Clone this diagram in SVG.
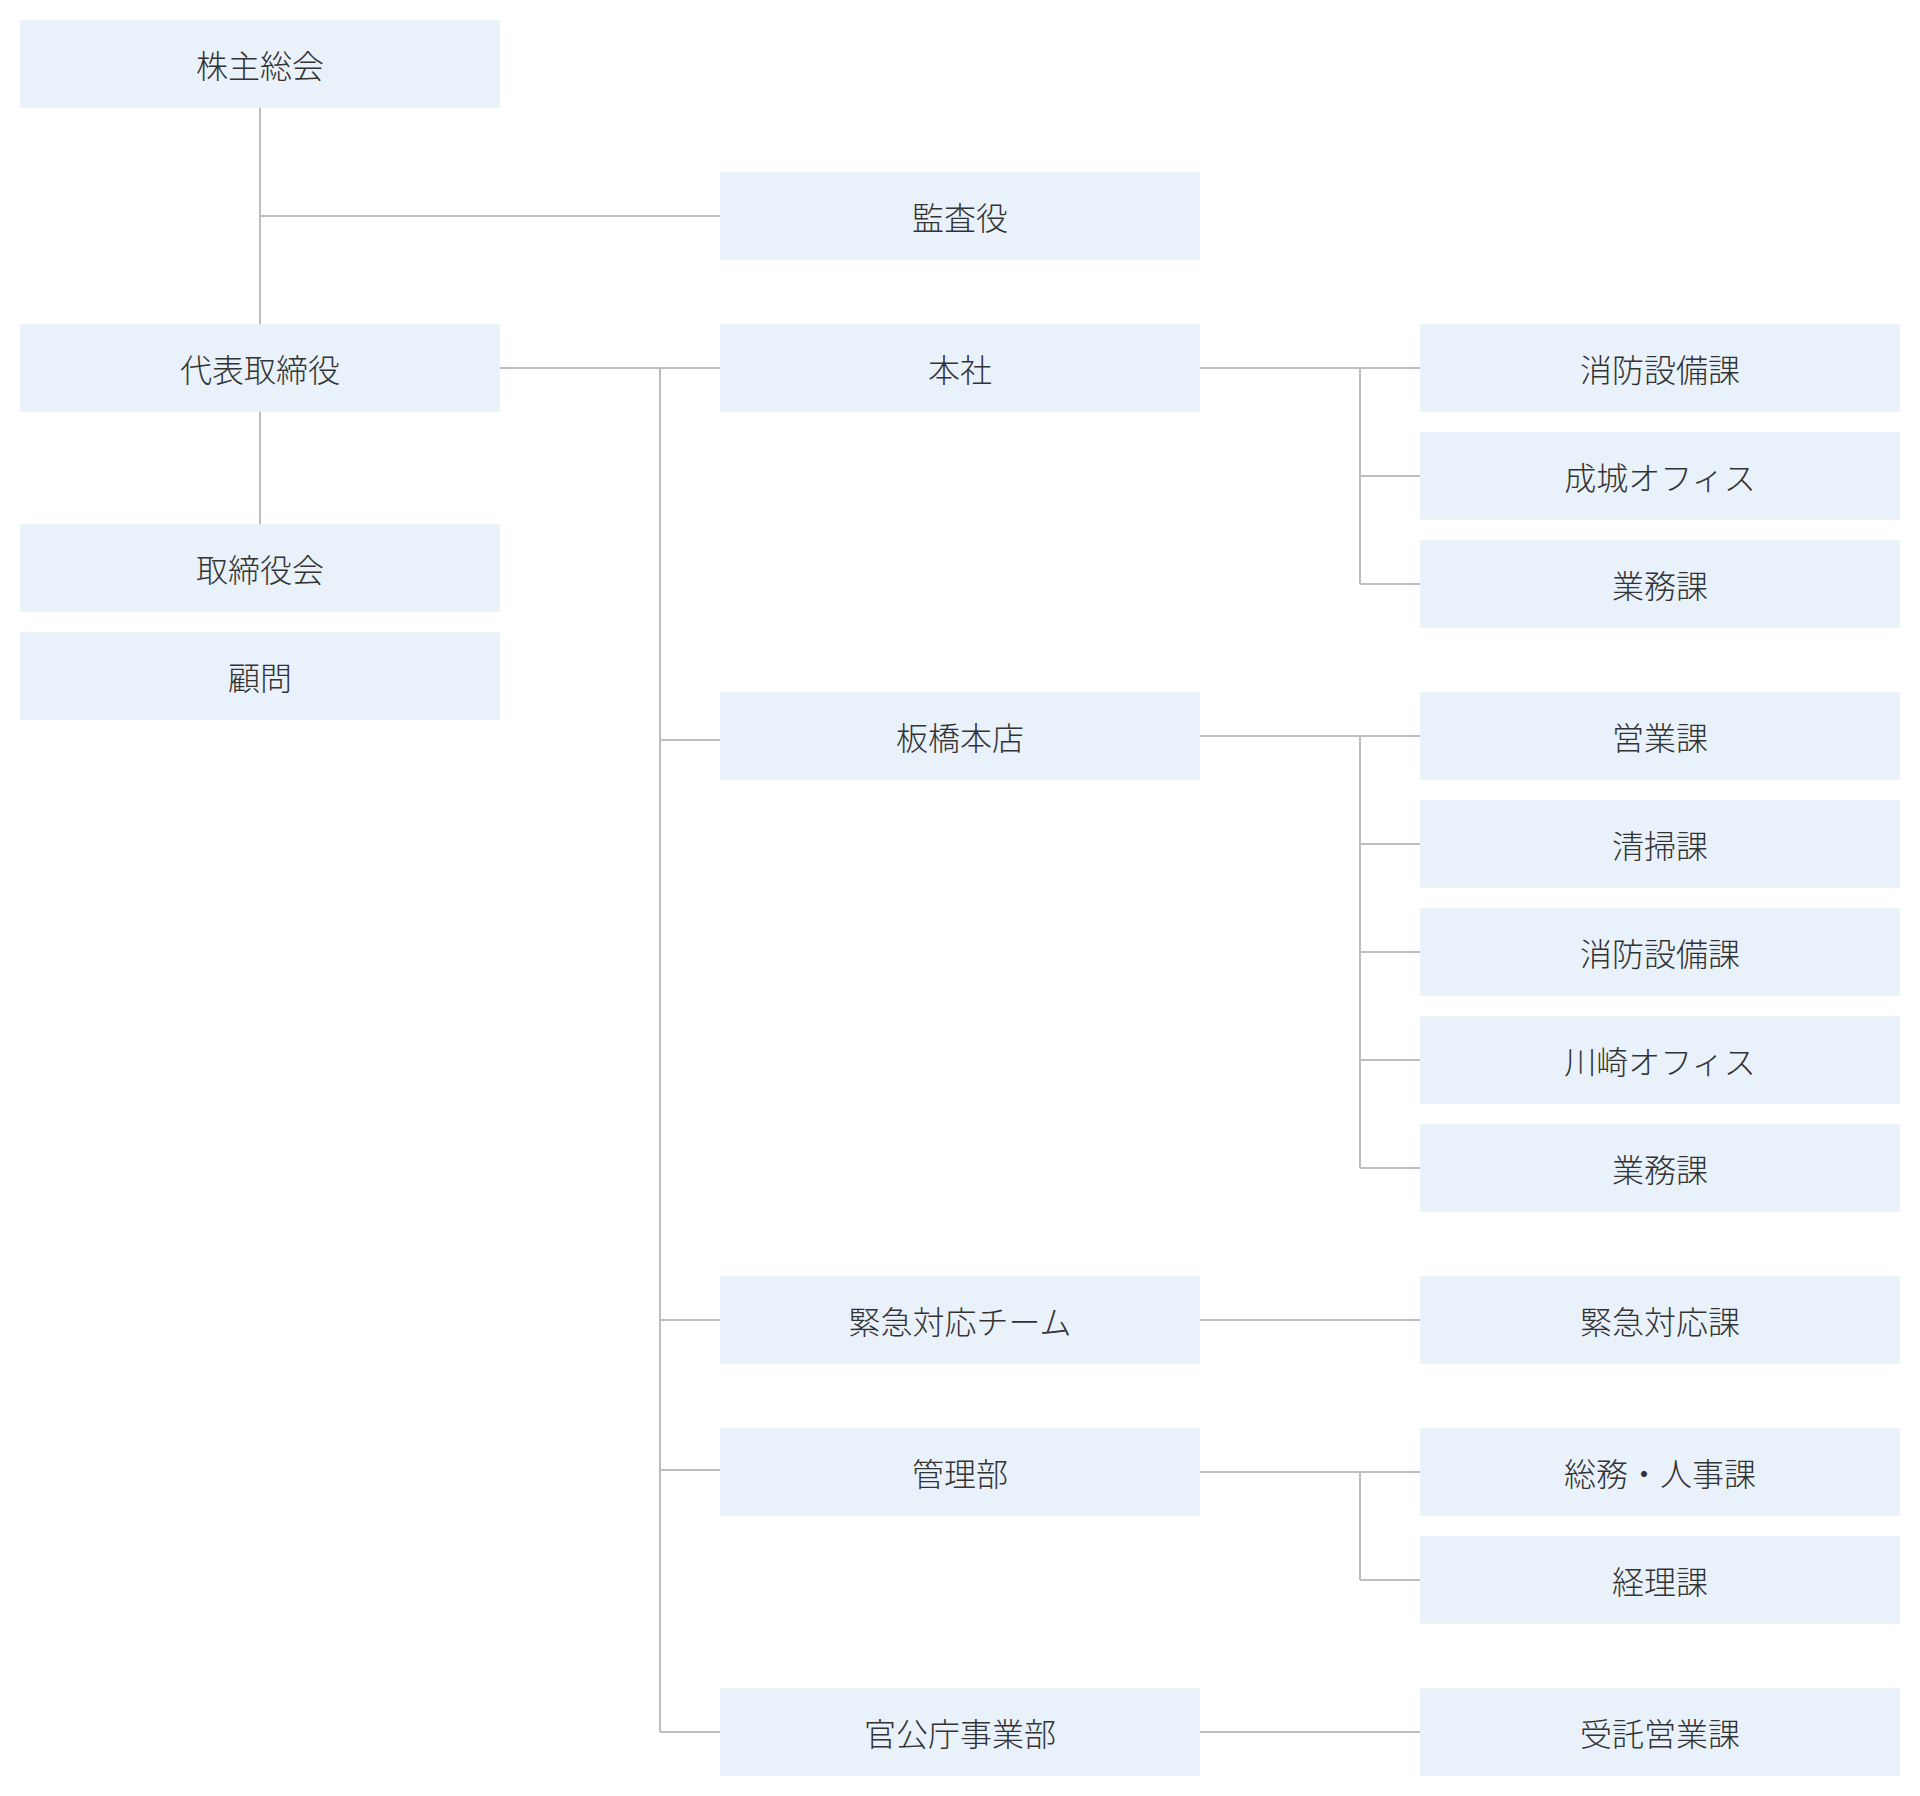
<svg xmlns="http://www.w3.org/2000/svg" width="1920" height="1796" viewBox="0 0 1920 1796">
<style>
.box{fill:#E9F1FB;}
.lbl{font-family:"Noto Sans CJK JP","Noto Sans CJK SC",sans-serif;font-size:32px;font-weight:300;fill:#333333;text-anchor:middle;}
.ln{stroke:#BDBDBD;stroke-width:2;fill:none;}
</style>
<rect width="1920" height="1796" fill="#FFFFFF"/>
<g id="connectors">
<path class="ln" d="M260 108V324M260 216H720M260 412V524"/>
<path class="ln" d="M500 368H720M660 368V1732M660 740H720M660 1320H720M660 1470H720M660 1732H720"/>
<path class="ln" d="M1200 368H1420M1360 368V584M1360 476H1420M1360 584H1420"/>
<path class="ln" d="M1200 736H1420M1360 736V1168M1360 844H1420M1360 952H1420M1360 1060H1420M1360 1168H1420"/>
<path class="ln" d="M1200 1320H1420"/>
<path class="ln" d="M1200 1472H1420M1360 1472V1580M1360 1580H1420"/>
<path class="ln" d="M1200 1732H1420"/>
</g>
<g id="n-kabunushi"><rect class="box" x="20" y="20" width="480" height="88"/><text class="lbl" x="260" y="78">株主総会</text></g>
<g id="n-kansayaku"><rect class="box" x="720" y="172" width="480" height="88"/><text class="lbl" x="960" y="230">監査役</text></g>
<g id="n-daihyo"><rect class="box" x="20" y="324" width="480" height="88"/><text class="lbl" x="260" y="382">代表取締役</text></g>
<g id="n-torishimariyakukai"><rect class="box" x="20" y="524" width="480" height="88"/><text class="lbl" x="260" y="582">取締役会</text></g>
<g id="n-komon"><rect class="box" x="20" y="632" width="480" height="88"/><text class="lbl" x="260" y="690">顧問</text></g>
<g id="n-honsha"><rect class="box" x="720" y="324" width="480" height="88"/><text class="lbl" x="960" y="382">本社</text></g>
<g id="n-honsha-shobo"><rect class="box" x="1420" y="324" width="480" height="88"/><text class="lbl" x="1660" y="382">消防設備課</text></g>
<g id="n-seijo"><rect class="box" x="1420" y="432" width="480" height="88"/><text class="lbl" x="1660" y="490">成城オフィス</text></g>
<g id="n-honsha-gyomu"><rect class="box" x="1420" y="540" width="480" height="88"/><text class="lbl" x="1660" y="598">業務課</text></g>
<g id="n-itabashi"><rect class="box" x="720" y="692" width="480" height="88"/><text class="lbl" x="960" y="750">板橋本店</text></g>
<g id="n-eigyo"><rect class="box" x="1420" y="692" width="480" height="88"/><text class="lbl" x="1660" y="750">営業課</text></g>
<g id="n-seiso"><rect class="box" x="1420" y="800" width="480" height="88"/><text class="lbl" x="1660" y="858">清掃課</text></g>
<g id="n-itabashi-shobo"><rect class="box" x="1420" y="908" width="480" height="88"/><text class="lbl" x="1660" y="966">消防設備課</text></g>
<g id="n-kawasaki"><rect class="box" x="1420" y="1016" width="480" height="88"/><text class="lbl" x="1660" y="1074">川崎オフィス</text></g>
<g id="n-itabashi-gyomu"><rect class="box" x="1420" y="1124" width="480" height="88"/><text class="lbl" x="1660" y="1182">業務課</text></g>
<g id="n-kinkyu-team"><rect class="box" x="720" y="1276" width="480" height="88"/><text class="lbl" x="960" y="1334">緊急対応チーム</text></g>
<g id="n-kinkyu-ka"><rect class="box" x="1420" y="1276" width="480" height="88"/><text class="lbl" x="1660" y="1334">緊急対応課</text></g>
<g id="n-kanri"><rect class="box" x="720" y="1428" width="480" height="88"/><text class="lbl" x="960" y="1486">管理部</text></g>
<g id="n-somu"><rect class="box" x="1420" y="1428" width="480" height="88"/><text class="lbl" x="1660" y="1486">総務・人事課</text></g>
<g id="n-keiri"><rect class="box" x="1420" y="1536" width="480" height="88"/><text class="lbl" x="1660" y="1594">経理課</text></g>
<g id="n-kankocho"><rect class="box" x="720" y="1688" width="480" height="88"/><text class="lbl" x="960" y="1746">官公庁事業部</text></g>
<g id="n-jutaku"><rect class="box" x="1420" y="1688" width="480" height="88"/><text class="lbl" x="1660" y="1746">受託営業課</text></g>
</svg>
